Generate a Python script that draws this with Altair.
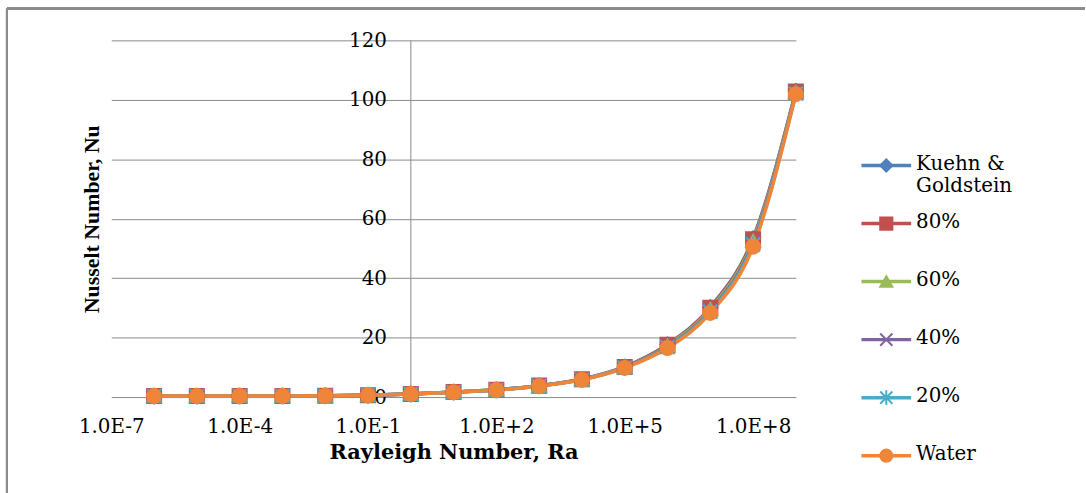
import altair as alt
import pandas as pd

# ---------------- data ----------------
rayleigh = [1e-6, 1e-5, 1e-4, 1e-3, 1e-2, 1e-1, 1e0, 1e1, 1e2,
            1e3, 1e4, 1e5, 1e6, 1e7, 1e8, 1e9]

series_names = ["Kuehn & Goldstein", "80%", "60%", "40%", "20%", "Water"]
legend_text = ["Kuehn &\nGoldstein", "80%", "60%", "40%", "20%", "Water"]

nu_kuehn = [0.35, 0.35, 0.36, 0.38, 0.45, 0.62, 1.05, 1.7, 2.45, 3.85, 6.0, 10.2, 17.7, 30.2, 53.4, 103.0]
nu_80 = [0.35, 0.35, 0.36, 0.38, 0.45, 0.62, 1.05, 1.7, 2.45, 3.85, 6.0, 10.1, 17.6, 30.0, 53.1, 102.8]
nu_60 = [0.34, 0.34, 0.35, 0.37, 0.44, 0.61, 1.03, 1.68, 2.42, 3.8, 5.95, 10.0, 17.3, 29.6, 52.5, 102.6]
nu_40 = [0.34, 0.34, 0.35, 0.37, 0.44, 0.61, 1.02, 1.67, 2.4, 3.77, 5.9, 9.95, 17.0, 29.1, 51.9, 102.4]
nu_20 = [0.33, 0.33, 0.34, 0.36, 0.43, 0.60, 1.01, 1.66, 2.38, 3.74, 5.85, 9.9, 16.8, 28.7, 51.3, 102.1]
nu_water = [0.33, 0.33, 0.34, 0.36, 0.43, 0.60, 1.0, 1.65, 2.35, 3.7, 5.8, 9.8, 16.5, 28.3, 50.6, 101.9]

x_ticks = [1e-7, 1e-4, 1e-1, 1e2, 1e5, 1e8]
y_ticks = [0, 20, 40, 60, 80, 100, 120]

colors = ["#4F81BD", "#C0504D", "#9BBB59", "#8064A2", "#4BACC6", "#EE8539"]
shapes = ["diamond", "square", "triangle-up",
          "M-1,-1L1,1M-1,1L1,-1",
          "M-1,-1L1,1M-1,1L1,-1M0,-1.2L0,1.2",
          "circle"]

all_values = [nu_kuehn, nu_80, nu_60, nu_40, nu_20, nu_water]
rows = []
for i, (name, vals) in enumerate(zip(series_names, all_values)):
    for ra, nu in zip(rayleigh, vals):
        rows.append({"series": name, "order": i, "ra": ra, "nu": nu})
df = pd.DataFrame(rows)

legend_df = pd.DataFrame({
    "series": series_names,
    "label": legend_text,
    "rank": list(range(len(series_names))),
})

GRID = "#8a8a8a"
SERIF = "DejaVu Serif"

color_scale = alt.Scale(domain=series_names, range=colors)
shape_scale = alt.Scale(domain=series_names, range=shapes)

W, H = 689, 359

x_enc = alt.X(
    "ra:Q",
    scale=alt.Scale(type="log", domain=[1e-7, 1e9], nice=False),
    axis=alt.Axis(
        values=x_ticks,
        labelExpr="'1.0E' + (datum.value >= 1 ? '+' : '-') + abs(round(log(datum.value) / LN10))",
        grid=False, domain=False, ticks=False, labelFlush=False,
        labelFont=SERIF, labelFontSize=20, labelColor="#000000", labelPadding=20,
        title="Rayleigh Number, Ra", titleFont=SERIF, titleFontSize=21,
        titleFontWeight="bold", titleColor="#000000", titlePadding=5,
    ),
)
y_enc = alt.Y(
    "nu:Q",
    scale=alt.Scale(domain=[0, 120], nice=False),
    axis=alt.Axis(
        values=y_ticks, grid=True, gridColor=GRID, gridWidth=1,
        domain=True, domainColor=GRID, domainWidth=1, ticks=False, labelFlush=False,
        offset=-301,
        labelFont=SERIF, labelFontSize=20, labelColor="#000000", labelPadding=24,
        title="Nusselt Number, Nu", titleFont="Liberation Serif", titleFontSize=22,
        titleFontWeight="bold", titleColor="#000000",
        titleX=-321, titleY=H / 2, titleAngle=270, titleBaseline="middle", titleAlign="center",
    ),
)

lines = alt.Chart(df).mark_line(interpolate="monotone", strokeWidth=3.5).encode(
    x=x_enc, y=y_enc,
    color=alt.Color("series:N", scale=color_scale, legend=None),
    detail="series:N",
    order=alt.Order("order:Q"),
)

points = alt.Chart(df).mark_point(filled=True, size=200, strokeWidth=2, opacity=1).encode(
    x="ra:Q", y="nu:Q",
    color=alt.Color("series:N", scale=color_scale, legend=None),
    stroke=alt.Stroke("series:N", scale=color_scale, legend=None),
    shape=alt.Shape("series:N", scale=shape_scale, legend=None),
    order=alt.Order("order:Q"),
)

frame_left = alt.Chart(legend_df).mark_rule(color="#8c8c8c", strokeWidth=2).encode(
    x=alt.value(-105), y=alt.value(-32), y2=alt.value(460)
)
frame_top = alt.Chart(legend_df).mark_rule(color="#8c8c8c", strokeWidth=2).encode(
    x=alt.value(-105), x2=alt.value(980), y=alt.value(-32)
)

main = alt.layer(frame_left, frame_top, lines, points).properties(width=W, height=H)

leg_y = alt.Y("rank:Q", scale=alt.Scale(domain=[0, 5], range=[126, 418], nice=False, zero=False), axis=None)

leg_rule = alt.Chart(legend_df).mark_rule(strokeWidth=3.5).encode(
    x=alt.value(0), x2=alt.value(50), y=leg_y,
    color=alt.Color("series:N", scale=color_scale, legend=None),
)
leg_pt = alt.Chart(legend_df).mark_point(filled=True, size=150, strokeWidth=2, opacity=1).encode(
    x=alt.value(25), y=leg_y,
    color=alt.Color("series:N", scale=color_scale, legend=None),
    stroke=alt.Stroke("series:N", scale=color_scale, legend=None),
    shape=alt.Shape("series:N", scale=shape_scale, legend=None),
)
leg_txt = alt.Chart(legend_df).mark_text(
    align="left", baseline="top", dy=-12, font=SERIF, fontSize=20,
    lineBreak="\n", lineHeight=23, color="#000000",
).encode(x=alt.value(55), y=leg_y, text="label:N")

legend = alt.layer(leg_rule, leg_pt, leg_txt).properties(width=200, height=H)

chart = alt.hconcat(main, legend, spacing=66, bounds="flush").properties(
    padding={"left": 6, "top": 6, "right": 0, "bottom": 0},
    background="#ffffff",
).configure_view(stroke=None)

chart.save("out.html", embed_options={"renderer": "svg", "actions": False})
